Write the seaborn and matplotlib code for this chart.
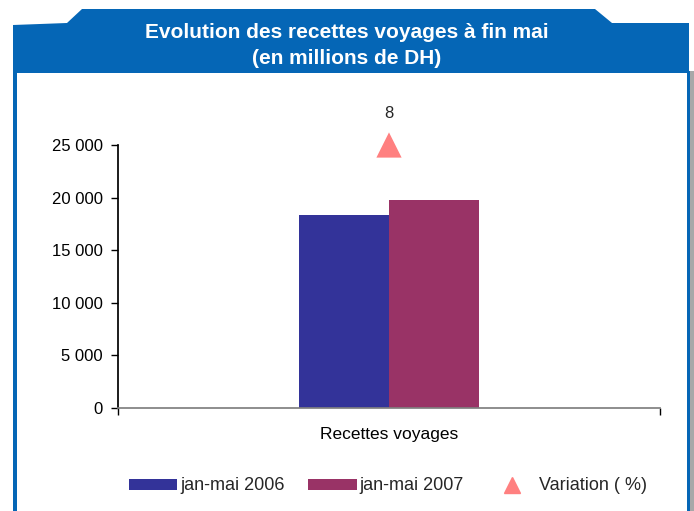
import pandas as pd
import matplotlib.pyplot as plt
import seaborn as sns
from matplotlib.patches import Polygon, Rectangle

# Data
categories = ["Recettes voyages"]
periods = ["jan-mai 2006", "jan-mai 2007"]
recettes = [18350, 19770]
variation = [8]

df = pd.DataFrame({
    "categorie": categories * len(periods),
    "periode": periods,
    "valeur": recettes,
})

sns.set_theme(style="white")
plt.rcParams["font.family"] = ["Liberation Sans", "DejaVu Sans"]

W, H = 694, 511
fig = plt.figure(figsize=(W / 100, H / 100), dpi=100)


def px(x, y):
    # pixel coords (from top-left) -> figure fraction
    return (x / W, 1 - y / H)


blue = "#0566b6"

# frame: header banner, borders, shadow
header = [(13, 25), (67, 23), (82, 9), (595, 9), (612, 23), (689, 23), (689, 73), (13, 73)]
fig.patches.append(Polygon([px(*p) for p in header], closed=True, transform=fig.transFigure,
                           facecolor=blue, edgecolor="none", zorder=0))
fig.patches.append(Rectangle(px(690, 511), 4 / W, 440 / H, transform=fig.transFigure,
                             facecolor="#a8a8a8", edgecolor="none", zorder=0))
fig.patches.append(Rectangle(px(13, 511), 3.5 / W, 440 / H, transform=fig.transFigure,
                             facecolor=blue, edgecolor="none", zorder=1))
fig.patches.append(Rectangle(px(686.5, 511), 3.5 / W, 440 / H, transform=fig.transFigure,
                             facecolor=blue, edgecolor="none", zorder=1))

fig.text(*px(347, 33), "Evolution des recettes voyages à fin mai", color="white",
         fontsize=15, fontweight="bold", ha="center", va="center")
fig.text(*px(347, 58), "(en millions de DH)", color="white",
         fontsize=15, fontweight="bold", ha="center", va="center")

# main axes
ax = fig.add_axes([118 / W, 1 - 408 / H, (660 - 118) / W, (408 - 145) / H])
ax.patch.set_alpha(0)
sns.barplot(data=df, x="categorie", y="valeur", hue="periode",
            palette=["#333399", "#993366"], width=0.332, saturation=1,
            edgecolor="none", ax=ax, legend=False)
ax.set_xlim(-0.5, 0.5)
ax.set_ylim(0, 25000)
ax.set_yticks([0, 5000, 10000, 15000, 20000, 25000])
ax.set_yticklabels(["0", "5 000", "10 000", "15 000", "20 000", "25 000"], fontsize=12)
ax.set_xticks([0])
ax.set_xticklabels(categories, fontsize=12.5)
ax.set_xticks([-0.5, 0.5], minor=True)
ax.tick_params(axis="x", which="major", length=0, pad=14, colors="black")
ax.tick_params(axis="x", which="minor", length=5, width=1, direction="out",
               bottom=True, color="black")
ax.tick_params(axis="y", length=5, width=1, direction="out", left=True,
               colors="black", pad=6)
ax.set_xlabel("")
ax.set_ylabel("")
for s in ["top", "right"]:
    ax.spines[s].set_visible(False)
ax.spines["left"].set_color("black")
ax.spines["bottom"].set_color("#808080")

# variation on hidden secondary axis
ax2 = ax.twinx()
ax2.set_ylim(0, variation[0] * 1.0)
sns.scatterplot(x=[0], y=variation, marker="^", s=330, color="#ff8080",
                edgecolor="none", ax=ax2, clip_on=False, legend=False, zorder=5)
ax2.annotate(str(variation[0]), (0, variation[0]), xytext=(0, 23),
             textcoords="offset points", ha="center", va="center", fontsize=12,
             annotation_clip=False)
ax2.axis("off")

# legend
handles = [
    Rectangle((0, 0), 1, 1, facecolor="#333399", edgecolor="none"),
    Rectangle((0, 0), 1, 1, facecolor="#993366", edgecolor="none"),
    plt.Line2D([], [], marker="^", linestyle="none", color="#ff8080", markersize=11),
]
leg = fig.legend(handles, periods + ["Variation ( %)"], loc="center",
                 bbox_to_anchor=px(388, 486), ncol=3, frameon=False, fontsize=13,
                 handlelength=2.67, handleheight=0.55, handletextpad=0.17,
                 columnspacing=1.33)

fig.savefig("out.png", dpi=100, facecolor="white")
